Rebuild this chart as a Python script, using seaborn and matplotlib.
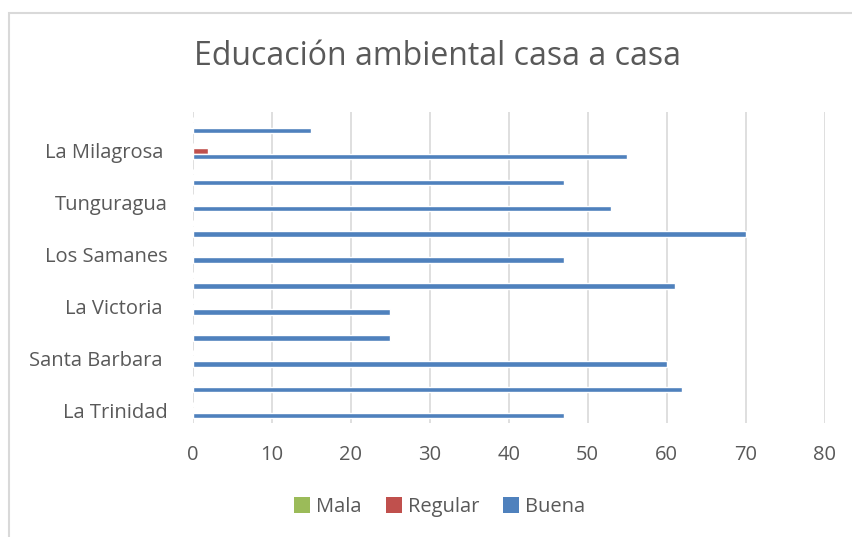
import matplotlib
matplotlib.use("Agg")
import matplotlib.pyplot as plt
import seaborn as sns
import pandas as pd
from matplotlib.patches import Rectangle, Patch

# Barrios from top to bottom (Excel shows only every other label)
barrios = ["Barrio 12", "La Milagrosa", "Barrio 10", "Tunguragua", "Barrio 8", "Los Samanes",
           "Barrio 6", "La Victoria", "Barrio 4", "Santa Barbara", "Barrio 2", "La Trinidad"]
etiquetas = ["", "La Milagrosa ", "", "Tunguragua", "", "Los Samanes",
             "", "La Victoria ", "", "Santa Barbara ", "", "La Trinidad"]
mala = [0, 0, 0, 0, 0, 0, 0, 0, 0, 0, 0, 0]
regular = [0, 2, 0, 0, 0, 0, 0, 0, 0, 0, 0, 0]
buena = [15, 55, 47, 53, 70, 47, 61, 25, 25, 60, 62, 47]
series = ["Mala", "Regular", "Buena"]
colores = ["#9BBB59", "#C0504D", "#4F81BD"]

rows = []
for i, b in enumerate(barrios):
    for s, vals in zip(series, [mala, regular, buena]):
        rows.append({"barrio": b, "serie": s, "valor": vals[i]})
df = pd.DataFrame(rows)

sns.set_style("white")
plt.rcParams["font.family"] = ["Open Sans", "DejaVu Sans"]
txt = "#595959"

fig = plt.figure(figsize=(8.52, 5.37), dpi=100)
ax = fig.add_axes([0.226, 0.2123, 0.742, 0.579])

sns.barplot(data=df, y="barrio", x="valor", hue="serie", hue_order=series,
            order=barrios, palette=colores, width=0.64, ax=ax, saturation=1,
            legend=False)

ax.set_xlim(0, 80)
ax.set_xticks(range(0, 81, 10))
ax.set_yticks(range(len(barrios)))
ax.set_yticklabels(etiquetas)
ax.set_xlabel("")
ax.set_ylabel("")
ax.grid(axis="x", color="#D9D9D9", linewidth=1.2)
ax.set_axisbelow(True)
for sp in ax.spines.values():
    sp.set_visible(False)
ax.tick_params(axis="both", length=0, labelsize=14.5, colors=txt)
ax.tick_params(axis="y", pad=17.5)
ax.tick_params(axis="x", pad=16)

# legend with square colour keys
handles = [Patch(facecolor=c, edgecolor="none") for c in colores]
fig.legend(handles, series, loc="center", bbox_to_anchor=(0.516, 0.056), ncol=3,
           frameon=False, fontsize=14.5, handlelength=0.8, handleheight=0.8,
           handletextpad=0.3, columnspacing=1.2, labelcolor=txt)

fig.text(0.513, 0.894, "Educación ambiental casa a casa", ha="center", va="center",
         fontsize=23, color=txt)

fig.patches.append(Rectangle((0.011, -0.01), 1.0, 0.986, transform=fig.transFigure,
                             fill=False, edgecolor="#D9D9D9", linewidth=1.5))

fig.savefig("out.png", dpi=100)
